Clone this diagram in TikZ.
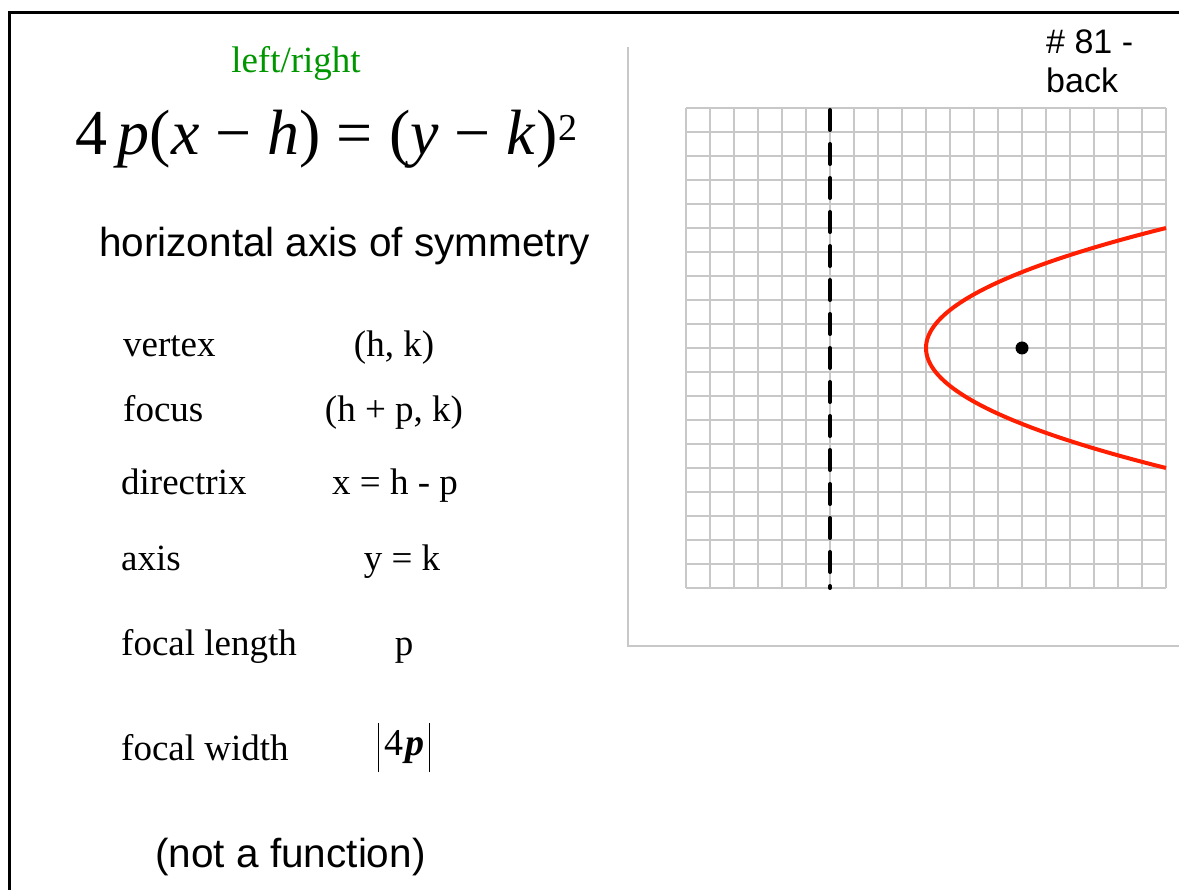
\documentclass[tikz,border=0pt]{standalone}
\usepackage{fontspec}
\setmainfont{Liberation Serif}
\setsansfont{Liberation Sans}
\usepackage{tikz}
\definecolor{labelgreen}{RGB}{0,150,0}
\definecolor{curvered}{RGB}{255,30,0}
\definecolor{gridgray}{RGB}{200,200,200}
\newcommand{\serifsize}{\fontsize{37}{40}\selectfont}
\newcommand{\sanssize}{\fontsize{40.5}{44}\selectfont\sffamily}
\newcommand{\absbar}{\rule[-17pt]{1.3pt}{49pt}}

\begin{document}
\begin{tikzpicture}[x=1pt, y=-1pt,
  lbl/.style={anchor=base west, inner sep=0pt, font=\serifsize},
  val/.style={anchor=base, inner sep=0pt, font=\serifsize},
  gridline/.style={gridgray, line width=1.5pt}]
  \useasboundingbox (0,0) rectangle (1179,890);
  % Outer frame (cut off at right and bottom)
  \draw[line width=3pt] (9.5,890) -- (9.5,12.5) -- (1179,12.5);
  % Equation and heading
  \node[anchor=base, inner sep=0pt, font=\serifsize, labelgreen] (dir) at (296,73) {left/right};
  \node[anchor=base west, inner sep=0pt, font=\fontsize{64}{66}\selectfont] (eqn) at (75,155)
    {4\,\textit{p}(\textit{x} − \textit{h}) = (\textit{y} − \textit{k})\kern1pt\raisebox{14pt}{\fontsize{38}{38}\selectfont 2}};
  \node[anchor=base west, inner sep=0pt, font=\sanssize] (sym) at (99,257) {horizontal axis of symmetry};
  % Properties
  \node[lbl] (vertex) at (123,357) {vertex};
  \node[val] (vertexv) at (394,357) {(h, k)};
  \node[lbl] (focus) at (123,422) {focus};
  \node[val] (focusv) at (394,422) {(h + p, k)};
  \node[lbl] (directrix) at (121,495) {directrix};
  \node[val] (directrixv) at (395,495) {x = h - p};
  \node[lbl] (axis) at (121,570) {axis};
  \node[val] (axisv) at (402,570) {y = k};
  \node[lbl] (flength) at (121,655) {focal length};
  \node[val] (flengthv) at (404,655) {p};
  \node[lbl] (fwidth) at (121,760) {focal width};
  \node[val, font=\fontsize{38}{40}\selectfont] (fwidthv) at (404,755)
    {\absbar\kern5pt 4\kern2pt\textbf{\textit{p}}\kern5pt\absbar};
  \node[anchor=base, inner sep=0pt, font=\sanssize] (nofunc) at (290.5,867) {(not a function)};
  % Card number
  \node[anchor=base west, inner sep=0pt, font=\fontsize{34}{38}\selectfont\sffamily] (cardno) at (1046,54) {\# 81 -};
  \node[anchor=base west, inner sep=0pt, font=\fontsize{34}{38}\selectfont\sffamily] (cardside) at (1046,93) {back};
  % Graph panel
  \draw[gridline] (628,47) -- (628,646) -- (1179,646);
  \foreach \i in {0,...,20} {
    \draw[gridline] (686+24*\i,108) -- (686+24*\i,588);
    \draw[gridline] (686,108+24*\i) -- (1166,108+24*\i);
  }
  % Directrix
  \draw[line width=4pt, dash pattern=on 20pt off 14pt, line cap=round] (830,110) -- (830,588);
  % Parabola and focus
  \draw[curvered, line width=4pt] plot[domain=-5:5, samples=81, smooth] ({926+9.6*(\x)*(\x)},{348+24*\x});
  \coordinate (focuspt) at (1022,348);
  \fill (focuspt) circle (6.5);
\end{tikzpicture}
\end{document}
